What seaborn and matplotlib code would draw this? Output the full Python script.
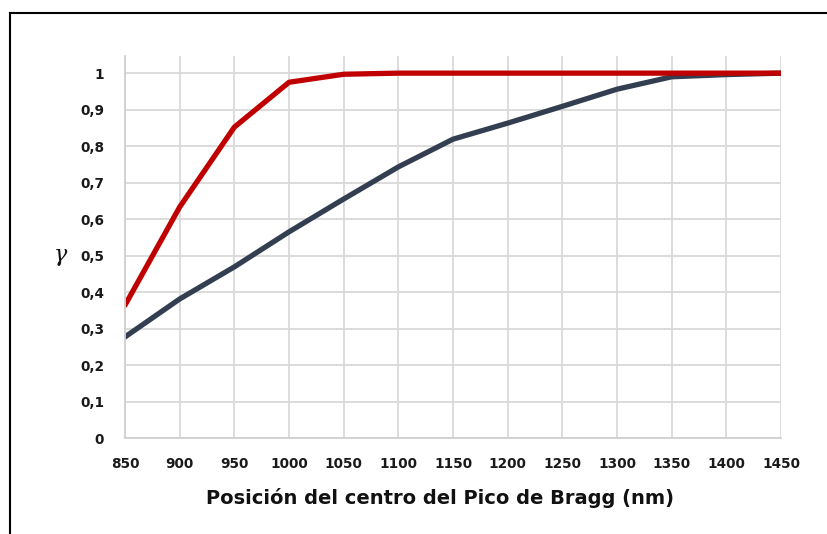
import matplotlib
matplotlib.use("Agg")
import matplotlib.pyplot as plt
import seaborn as sns
import pandas as pd
from matplotlib.lines import Line2D

posicion = [850, 900, 950, 1000, 1050, 1100, 1150, 1200, 1250, 1300, 1350, 1400, 1450]
serie_roja = [0.364, 0.633, 0.852, 0.975, 0.997, 1.0, 1.0, 1.0, 1.0, 1.0, 1.0, 1.0, 1.0]
serie_gris = [0.277, 0.381, 0.469, 0.565, 0.655, 0.743, 0.819, 0.863, 0.909, 0.956, 0.990, 0.996, 1.0]
y_ticks = [0, 0.1, 0.2, 0.3, 0.4, 0.5, 0.6, 0.7, 0.8, 0.9, 1.0]
y_labels = ["0", "0,1", "0,2", "0,3", "0,4", "0,5", "0,6", "0,7", "0,8", "0,9", "1"]

df = pd.DataFrame({
    "x": posicion * 2,
    "y": serie_roja + serie_gris,
    "serie": ["roja"] * len(posicion) + ["gris"] * len(posicion),
})

sns.set_theme(style="whitegrid")
plt.rcParams["font.family"] = ["DejaVu Sans"]

fig = plt.figure(figsize=(8.28, 5.34), dpi=100)
ax = fig.add_axes([125/828, 1-438/534, (781-125)/828, (438-56)/534])

sns.lineplot(data=df, x="x", y="y", hue="serie",
             palette={"roja": "#C00000", "gris": "#333F50"},
             hue_order=["gris", "roja"],
             linewidth=3.8, legend=False, ax=ax, solid_capstyle="round")

ax.set_xlim(850, 1450)
ax.set_ylim(0, 1.047)
ax.set_xticks(posicion)
ax.set_xticklabels([str(p) for p in posicion], fontsize=9.8, fontweight="bold", color="#1a1a1a")
ax.set_yticks(y_ticks)
ax.set_yticklabels(y_labels, fontsize=9.8, fontweight="bold", color="#1a1a1a")
ax.tick_params(axis="x", pad=14, length=0)
ax.tick_params(axis="y", pad=15, length=0)
ax.grid(True, color="#D9D9D9", linewidth=1.3)
ax.set_axisbelow(True)
for s in ["top", "right"]:
    ax.spines[s].set_visible(False)
for s in ["left", "bottom"]:
    ax.spines[s].set_color("#D0D0D0")
    ax.spines[s].set_linewidth(1.3)
ax.set_facecolor("white")

ax.set_xlabel("Posición del centro del Pico de Bragg (nm)", fontsize=14, fontweight="bold", color="#111111")
ax.xaxis.set_label_coords((440-125)/656, (438-498)/382)
ax.xaxis.label.set_va("center")
ax.set_ylabel("")

fig.text(60/828, 1-255/534, "γ", fontsize=16, fontstyle="italic",
         family="DejaVu Serif", ha="center", va="center", color="#111111")

x0 = 9.5/828
y0 = 1 - 12.5/534
fig.add_artist(Line2D([x0, x0], [-0.1, y0], transform=fig.transFigure,
                      color="black", linewidth=1.5, solid_capstyle="projecting"))
fig.add_artist(Line2D([x0, 1.1], [y0, y0], transform=fig.transFigure,
                      color="black", linewidth=1.5, solid_capstyle="projecting"))

fig.savefig("out.png", dpi=100, facecolor="white")
